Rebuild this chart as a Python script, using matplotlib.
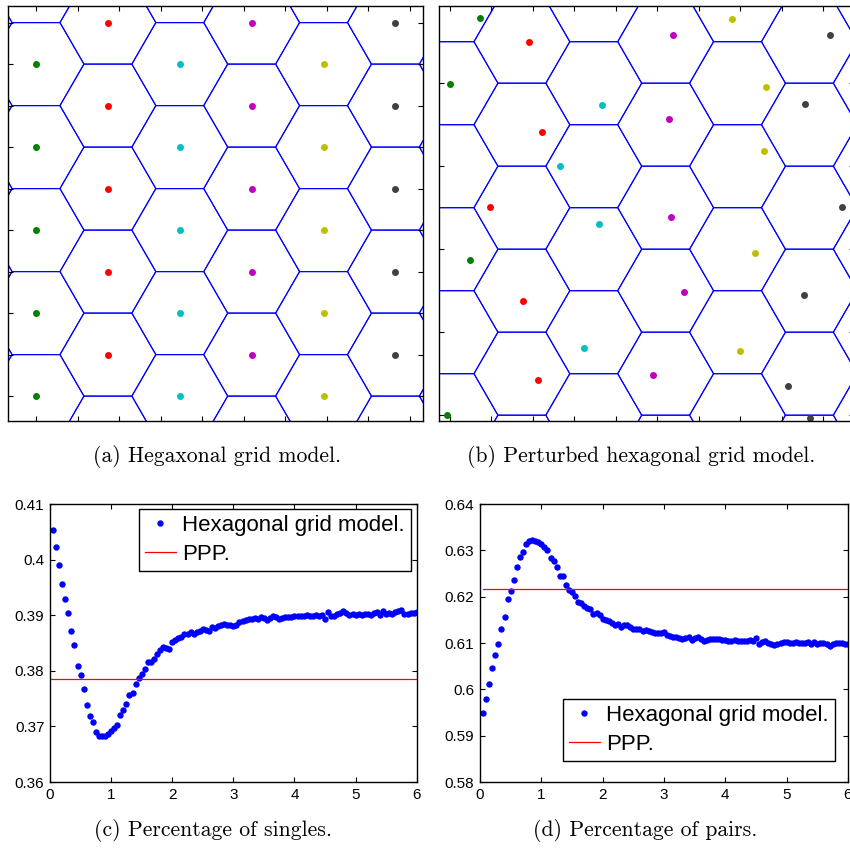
import numpy as np
import matplotlib
matplotlib.use('Agg')
import matplotlib.pyplot as plt
from matplotlib.patches import RegularPolygon

plt.rcParams['font.family'] = ['Liberation Sans', 'DejaVu Sans']

# MATLAB-style colour order used for the columns of the grid
col_colors = ['#008000', '#ff0000', '#00bfbf', '#bf00bf', '#bfbf00', '#404040']

# (a) regular hexagonal grid: one column of points per colour
grid_col_x = [0.0, 1.732, 3.464, 5.196, 6.928, 8.660]
grid_even_y = [0, 2, 4, 6, 8]
grid_odd_y = [1, 3, 5, 7, 9]

# (b) perturbed points, listed per colour
pert_x = {
    '#008000': [0.72, -0.01, 0.48, -0.07],
    '#ff0000': [1.90, 2.21, 0.96, 1.77, 2.13],
    '#00bfbf': [3.66, 2.65, 3.60, 3.23],
    '#bf00bf': [5.38, 5.28, 5.33, 5.64, 4.88],
    '#bfbf00': [6.80, 7.61, 7.57, 7.35, 6.98],
    '#404040': [9.16, 8.56, 9.44, 8.52, 8.15, 8.67],
}
pert_y = {
    '#008000': [9.56, 7.99, 3.75, 0.01],
    '#ff0000': [8.99, 6.83, 5.02, 2.74, 0.85],
    '#00bfbf': [7.48, 6.00, 4.61, 1.63],
    '#bf00bf': [9.15, 7.14, 4.77, 2.97, 0.96],
    '#bfbf00': [9.55, 7.91, 6.37, 3.91, 1.55],
    '#404040': [9.15, 7.50, 5.02, 2.89, 0.71, -0.06],
}

# hexagon cells (lattice columns/rows, cell spacing 2)
hex_cols = range(-1, 7)
hex_rows = range(-1, 6)
hex_radius = 2 / np.sqrt(3)

# (c)/(d) curves
dist = [0.05, 0.10, 0.15, 0.20, 0.25, 0.30, 0.35, 0.40, 0.45, 0.50,
        0.55, 0.60, 0.65, 0.70, 0.75, 0.80, 0.85, 0.90, 0.95, 1.00,
        1.05, 1.10, 1.15, 1.20, 1.25, 1.30, 1.35, 1.40, 1.45, 1.50,
        1.55, 1.60, 1.65, 1.70, 1.75, 1.80, 1.85, 1.90, 1.95, 2.00,
        2.05, 2.10, 2.15, 2.20, 2.25, 2.30, 2.35, 2.40, 2.45, 2.50,
        2.55, 2.60, 2.65, 2.70, 2.75, 2.80, 2.85, 2.90, 2.95, 3.00,
        3.05, 3.10, 3.15, 3.20, 3.25, 3.30, 3.35, 3.40, 3.45, 3.50,
        3.55, 3.60, 3.65, 3.70, 3.75, 3.80, 3.85, 3.90, 3.95, 4.00,
        4.05, 4.10, 4.15, 4.20, 4.25, 4.30, 4.35, 4.40, 4.45, 4.50,
        4.55, 4.60, 4.65, 4.70, 4.75, 4.80, 4.85, 4.90, 4.95, 5.00,
        5.05, 5.10, 5.15, 5.20, 5.25, 5.30, 5.35, 5.40, 5.45, 5.50,
        5.55, 5.60, 5.65, 5.70, 5.75, 5.80, 5.85, 5.90, 5.95, 6.00]

singles = [0.4053, 0.4022, 0.3990, 0.3957, 0.3929, 0.3904, 0.3871, 0.3846, 0.3809, 0.3792,
           0.3767, 0.3738, 0.3718, 0.3708, 0.3690, 0.3683, 0.3682, 0.3683, 0.3686, 0.3692,
           0.3698, 0.3703, 0.3720, 0.3730, 0.3740, 0.3757, 0.3760, 0.3776, 0.3787, 0.3795,
           0.3803, 0.3815, 0.3815, 0.3822, 0.3830, 0.3837, 0.3843, 0.3841, 0.3839, 0.3852,
           0.3855, 0.3859, 0.3861, 0.3866, 0.3866, 0.3869, 0.3866, 0.3870, 0.3872, 0.3875,
           0.3874, 0.3872, 0.3878, 0.3877, 0.3881, 0.3883, 0.3884, 0.3883, 0.3883, 0.3881,
           0.3883, 0.3887, 0.3890, 0.3892, 0.3893, 0.3894, 0.3895, 0.3894, 0.3897, 0.3895,
           0.3892, 0.3895, 0.3898, 0.3896, 0.3894, 0.3895, 0.3896, 0.3897, 0.3897, 0.3899,
           0.3898, 0.3899, 0.3898, 0.3900, 0.3899, 0.3899, 0.3901, 0.3899, 0.3900, 0.3894,
           0.3906, 0.3899, 0.3899, 0.3902, 0.3904, 0.3907, 0.3904, 0.3901, 0.3902, 0.3901,
           0.3902, 0.3901, 0.3902, 0.3903, 0.3901, 0.3904, 0.3905, 0.3900, 0.3908, 0.3903,
           0.3904, 0.3902, 0.3905, 0.3908, 0.3910, 0.3902, 0.3902, 0.3904, 0.3904, 0.3905]

pairs = [0.5949, 0.5980, 0.6012, 0.6045, 0.6074, 0.6097, 0.6131, 0.6156, 0.6194, 0.6212,
         0.6237, 0.6264, 0.6285, 0.6296, 0.6314, 0.6321, 0.6323, 0.6321, 0.6318, 0.6313,
         0.6308, 0.6300, 0.6284, 0.6276, 0.6263, 0.6245, 0.6245, 0.6226, 0.6215, 0.6209,
         0.6201, 0.6189, 0.6187, 0.6180, 0.6176, 0.6173, 0.6163, 0.6165, 0.6161, 0.6152,
         0.6149, 0.6147, 0.6144, 0.6139, 0.6142, 0.6135, 0.6138, 0.6139, 0.6134, 0.6131,
         0.6131, 0.6131, 0.6126, 0.6129, 0.6125, 0.6123, 0.6121, 0.6121, 0.6122, 0.6123,
         0.6118, 0.6116, 0.6113, 0.6112, 0.6110, 0.6108, 0.6110, 0.6112, 0.6107, 0.6110,
         0.6112, 0.6108, 0.6105, 0.6106, 0.6109, 0.6108, 0.6108, 0.6108, 0.6106, 0.6107,
         0.6105, 0.6105, 0.6106, 0.6105, 0.6104, 0.6105, 0.6104, 0.6106, 0.6105, 0.6111,
         0.6097, 0.6102, 0.6104, 0.6101, 0.6098, 0.6095, 0.6098, 0.6101, 0.6102, 0.6102,
         0.6100, 0.6101, 0.6103, 0.6100, 0.6099, 0.6100, 0.6102, 0.6098, 0.6103, 0.6097,
         0.6099, 0.6099, 0.6098, 0.6094, 0.6098, 0.6100, 0.6101, 0.6099, 0.6097, 0.6097]

ppp_singles = 0.3786
ppp_pairs = 0.6216
ppp_x_c = [0, 6]
ppp_x_d = [0.05, 6]

captions = ['(a) Hegaxonal grid model.', '(b) Perturbed hexagonal grid model.',
            '(c) Percentage of singles.', '(d) Percentage of pairs.']

W, H = 850, 848
fig = plt.figure(figsize=(W / 100, H / 100), dpi=100)


def px_axes(left, top, right, bottom):
    return fig.add_axes([left / W, 1 - bottom / H, (right - left) / W, (bottom - top) / H])


def style_box(ax):
    for s in ax.spines.values():
        s.set_linewidth(1.0)
    ax.tick_params(direction='in', top=True, right=True, length=3.5, width=0.8,
                   labelsize=11, pad=4)


def draw_hexes(ax):
    for k in hex_cols:
        for j in hex_rows:
            cx = k * np.sqrt(3)
            cy = (k % 2) + 2 * j
            ax.add_patch(RegularPolygon((cx, cy), numVertices=6, radius=hex_radius,
                                        orientation=np.pi / 6, fill=False,
                                        edgecolor='#0000ff', lw=0.8))


# (a)
ax_a = px_axes(8, 6, 423, 421)
draw_hexes(ax_a)
for i, x in enumerate(grid_col_x):
    ys = grid_even_y if i % 2 == 0 else grid_odd_y
    ax_a.plot([x] * len(ys), ys, 'o', color=col_colors[i], ms=5, mec='none')
ax_a.set_xlim(-0.675, 9.325)
ax_a.set_ylim(-0.6, 9.4)
ax_a.set_xticks(range(0, 10))
ax_a.set_yticks(range(0, 10))
style_box(ax_a)
ax_a.tick_params(labelbottom=False, labelleft=False)

# (b)
ax_b = px_axes(439, 6, 854, 421)
draw_hexes(ax_b)
for c in col_colors:
    ax_b.plot(pert_x[c], pert_y[c], 'o', color=c, ms=5, mec='none', clip_on=False)
ax_b.set_xlim(-0.265, 9.735)
ax_b.set_ylim(-0.14, 9.86)
ax_b.set_xticks(range(0, 10))
ax_b.set_yticks([0, 2, 4, 6, 8])
style_box(ax_b)
ax_b.tick_params(labelbottom=False, labelleft=False)

# (c)
ax_c = px_axes(50, 504, 416.7, 782)
ax_c.plot(dist, singles, 'o', color='#0000ff', ms=4.6, mec='none',
          label='Hexagonal grid model.')
ax_c.plot(ppp_x_c, [ppp_singles] * 2, '-', color='#ff0000', lw=0.9, label='PPP.')
ax_c.set_xlim(0, 6)
ax_c.set_ylim(0.36, 0.41)
ax_c.set_xticks(range(0, 7))
ax_c.set_yticks([0.36, 0.37, 0.38, 0.39, 0.40, 0.41])
ax_c.set_yticklabels(['0.36', '0.37', '0.38', '0.39', '0.4', '0.41'])
style_box(ax_c)

# (d)
ax_d = px_axes(480, 504, 848, 782)
ax_d.plot(dist, pairs, 'o', color='#0000ff', ms=4.6, mec='none',
          label='Hexagonal grid model.')
ax_d.plot(ppp_x_d, [ppp_pairs] * 2, '-', color='#ff0000', lw=0.9, label='PPP.')
ax_d.set_xlim(0, 6)
ax_d.set_ylim(0.58, 0.64)
ax_d.set_xticks(range(0, 7))
ax_d.set_yticks([0.58, 0.59, 0.60, 0.61, 0.62, 0.63, 0.64])
ax_d.set_yticklabels(['0.58', '0.59', '0.6', '0.61', '0.62', '0.63', '0.64'])
style_box(ax_d)

leg_kw = dict(fontsize=16, frameon=True, fancybox=False, edgecolor='black',
              framealpha=1, borderaxespad=0, handlelength=1.4, handletextpad=0.28,
              borderpad=0.28, labelspacing=0.34, numpoints=1)
lc = ax_c.legend(loc='upper right', bbox_to_anchor=(411 / W, 1 - 509 / H),
                 bbox_transform=fig.transFigure, **leg_kw)
ld = ax_d.legend(loc='upper right', bbox_to_anchor=(835 / W, 1 - 699 / H),
                 bbox_transform=fig.transFigure, **leg_kw)
for lg in (lc, ld):
    lg.get_frame().set_linewidth(1.0)

# captions
cap_pos = [(217, 457), (641, 457), (213, 831), (645, 831)]
for (cx, cy), txt in zip(cap_pos, captions):
    fig.text(cx / W, 1 - cy / H, txt, ha='center', va='center',
             fontfamily='cmr10', fontsize=15.6)

fig.savefig('out.png', dpi=100)
